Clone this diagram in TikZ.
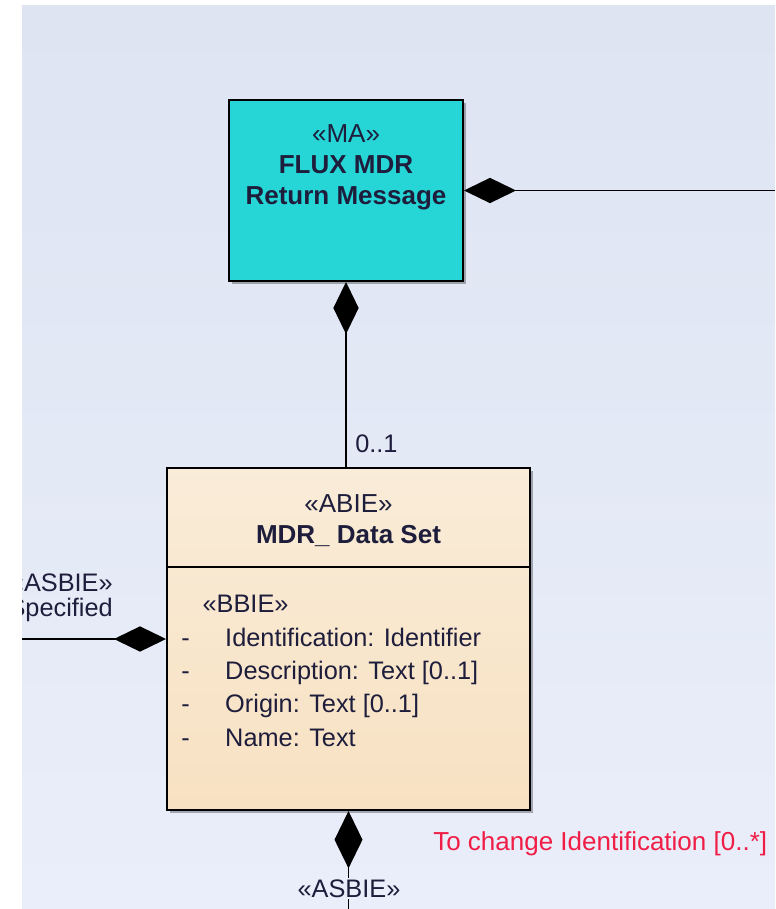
\documentclass[tikz,border=0pt]{standalone}
\usepackage{fontspec}
\setmainfont{Liberation Sans}
\usetikzlibrary{positioning,arrows.meta,shadows}

\definecolor{bgtop}{RGB}{222,228,242}
\definecolor{bgbot}{RGB}{234,238,250}
\definecolor{macyan}{RGB}{38,214,214}
\definecolor{abietop}{RGB}{249,236,216}
\definecolor{abiebot}{RGB}{248,225,194}
\definecolor{umltext}{RGB}{30,30,60}
\definecolor{notered}{RGB}{240,30,70}

\begin{document}
\begin{tikzpicture}[
        x=0.75pt, y=-0.75pt,
        every node/.style = {inner sep=0pt, text=umltext,
                             font=\fontsize{19}{25}\selectfont},
        classbox/.style = {shape=rectangle, draw=black, line width=1.5pt,
                           drop shadow={shadow xshift=2pt, shadow yshift=-2pt,
                                        fill=black, opacity=0.3}},
        titletext/.style = {align=center, font=\fontsize{19.5}{23.25}\selectfont},
        composite/.style = {line width=1.3pt, draw=black,
                            {Diamond[length=39pt, width=19pt]}-}]

    % page and background
    \fill[white] (0,0) rectangle (775,909);
    \shade[top color=bgtop, bottom color=bgbot] (22,6) rectangle (775,909);

    \begin{scope}
    \clip (22,6) rectangle (775,909);

    \node[classbox, fill=macyan, minimum width=175.5pt, minimum height=135.75pt]
        (ma) at (346,190.5) {};
    \node[titletext, anchor=north] (matitle) at (346,124.5)
        {«MA»\\ \textbf{FLUX MDR}\\ \textbf{Return Message}};

    \node[classbox, top color=abietop, bottom color=abiebot,
          minimum width=272.25pt, minimum height=256.5pt]
        (abie) at (348.5,639) {};
    \node[titletext, anchor=north] (abietitle) at (348.5,494)
        {«ABIE»\\ \textbf{MDR\_ Data Set}};
    \draw[line width=1.5pt] (abie.west |- 0,567) -- (abie.east |- 0,567);

    \node[align=left, anchor=north west] (attrs) at (181,595)
        {\hspace*{16pt}«BBIE»\\
         \makebox[33pt][l]{-}Identification: Identifier\\
         \makebox[33pt][l]{-}Description: Text [0..1]\\
         \makebox[33pt][l]{-}Origin: Text [0..1]\\
         \makebox[33pt][l]{-}Name: Text};

    \coordinate (rightend) at (775,193);
    \coordinate (leftend) at (22,639);
    \coordinate (bottomend) at (348.5,909);

    \draw[composite] (ma.east) -- (ma.east -| rightend);
    \draw[composite] (ma.south) -- (ma.south |- abie.north);
    \draw[composite] (abie.west) -- (leftend);
    \draw[composite, {Diamond[length=43pt, width=21pt]}-] (abie.south) -- (bottomend);

    \node[anchor=base west] (mult) at (355,452) {0..1};
    \node[align=right, anchor=north east, font=\fontsize{19}{18.5}\selectfont]
        (leftlabel) at (113,574) {«ASBIE»\\ Specified};
    \node[anchor=base, fill=bgbot, inner sep=1pt] (bottomlabel) at (349,897) {«ASBIE»};
    \node[anchor=base west, text=notered, font=\fontsize{19.5}{24}\selectfont]
        (note) at (433,850) {To change Identification [0..*]};
    \end{scope}

\end{tikzpicture}
\end{document}
